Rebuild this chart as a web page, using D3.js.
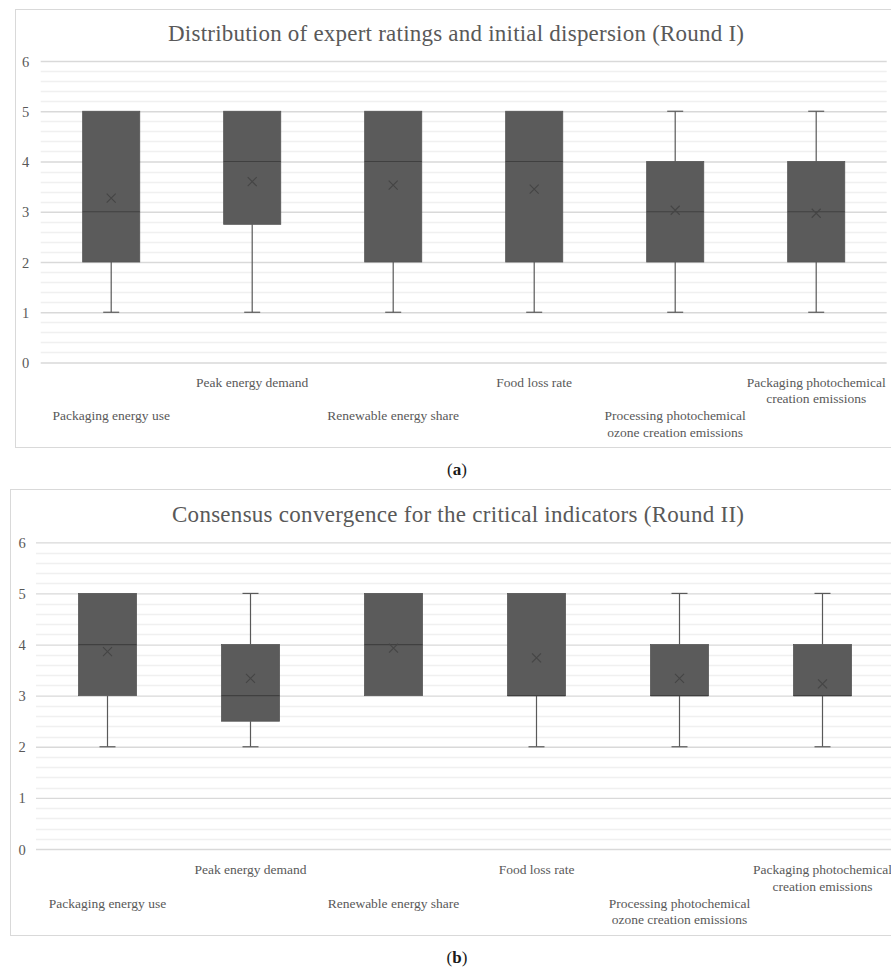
<!DOCTYPE html>
<html>
<head>
<meta charset="utf-8">
<script src="https://cdn.jsdelivr.net/npm/d3@7"></script>
<style>
  html, body { margin: 0; padding: 0; background: #fff; }
  svg { display: block; }
</style>
</head>
<body>
<svg id="chart" width="891" height="972"></svg>
<script>
// ---------------- DATA ----------------
const categories = [
  "Packaging energy use",
  "Peak energy demand",
  "Renewable energy share",
  "Food loss rate",
  "Processing photochemical ozone creation emissions",
  "Packaging photochemical creation emissions"
];
const categoryLabelLines = [
  ["Packaging energy use"],
  ["Peak energy demand"],
  ["Renewable energy share"],
  ["Food loss rate"],
  ["Processing photochemical", "ozone creation emissions"],
  ["Packaging photochemical", "creation emissions"]
];
const yTicks = [0, 1, 2, 3, 4, 5, 6];

const titleRound1 = "Distribution of expert ratings and initial dispersion (Round I)";
const titleRound2 = "Consensus convergence for the critical indicators (Round II)";

// Round I
const r1Min    = [1, 1, 1, 1, 1, 1];
const r1Q1     = [2, 2.75, 2, 2, 2, 2];
const r1Median = [3, 4, 4, 4, 3, 3];
const r1Q3     = [5, 5, 5, 5, 4, 4];
const r1Max    = [5, 5, 5, 5, 5, 5];
const r1Mean   = [3.27, 3.6, 3.53, 3.45, 3.03, 2.97];

// Round II
const r2Min    = [2, 2, 3, 2, 2, 2];
const r2Q1     = [3, 2.5, 3, 3, 3, 3];
const r2Median = [4, 3, 4, 3, 3, 3];
const r2Q3     = [5, 4, 5, 5, 4, 4];
const r2Max    = [5, 5, 5, 5, 5, 5];
const r2Mean   = [3.86, 3.34, 3.93, 3.74, 3.34, 3.23];

// ---------------- DRAW ----------------
const svg = d3.select("#chart");
const FONT = "'Liberation Serif', 'DejaVu Serif', serif";
const TEXT = "#595959";
const BOX = "#5b5b5b";
const DARK = "#404040";

function buildRows(mins, q1s, meds, q3s, maxs, means) {
  return categories.map((c, i) => ({
    cat: c, lines: categoryLabelLines[i],
    min: mins[i], q1: q1s[i], med: meds[i], q3: q3s[i], max: maxs[i], mean: means[i], i
  }));
}

function drawPanel(cfg) {
  const g = svg.append("g");
  // frame
  g.append("rect")
    .attr("x", cfg.frame.x + 0.5).attr("y", cfg.frame.y + 0.5)
    .attr("width", cfg.frame.w).attr("height", cfg.frame.h)
    .attr("fill", "#fff").attr("stroke", "#d9d9d9").attr("stroke-width", 1);

  const x = d3.scaleBand().domain(categories).range([cfg.plot.left, cfg.plot.right]).padding(0);
  const y = d3.scaleLinear().domain([0, 6]).range([cfg.plot.bottom, cfg.plot.top]);

  // minor gridlines
  const minor = d3.range(0, 6.0001, 0.2).filter(v => Math.abs(v - Math.round(v)) > 1e-6);
  g.append("g").selectAll("line").data(minor).join("line")
    .attr("x1", cfg.plot.left).attr("x2", cfg.plot.right)
    .attr("y1", d => Math.round(y(d)) + 0.5).attr("y2", d => Math.round(y(d)) + 0.5)
    .attr("stroke", "#f0f0f0").attr("stroke-width", 1.5);

  // major gridlines via axis
  const axis = d3.axisLeft(y).tickValues(yTicks).tickSize(-(cfg.plot.right - cfg.plot.left)).tickPadding(0).tickFormat(d3.format("d"));
  const ag = g.append("g").attr("transform", `translate(${cfg.plot.left},0)`).call(axis);
  ag.select(".domain").remove();
  ag.selectAll(".tick line").attr("stroke", "#d9d9d9").attr("stroke-width", 1.3);
  ag.selectAll(".tick text")
    .attr("x", cfg.tickLabelX - cfg.plot.left)
    .attr("text-anchor", "middle")
    .attr("dy", "0.35em")
    .attr("fill", TEXT)
    .style("font-family", FONT).style("font-size", "14.5px");

  const bw = x.bandwidth() * 0.405;
  const cx = d => x(d.cat) + x.bandwidth() / 2;

  const rows = cfg.rows;
  const bg = g.append("g");
  // whiskers
  bg.selectAll(".wl").data(rows).join("line")
    .attr("x1", cx).attr("x2", cx)
    .attr("y1", d => y(d.max)).attr("y2", d => y(d.q3))
    .attr("stroke", "#595959").attr("stroke-width", 1.2);
  bg.selectAll(".wl2").data(rows).join("line")
    .attr("x1", cx).attr("x2", cx)
    .attr("y1", d => y(d.q1)).attr("y2", d => y(d.min))
    .attr("stroke", "#595959").attr("stroke-width", 1.2);
  // caps
  bg.selectAll(".capT").data(rows.filter(d => d.max > d.q3)).join("line")
    .attr("x1", d => cx(d) - 8).attr("x2", d => cx(d) + 8)
    .attr("y1", d => y(d.max)).attr("y2", d => y(d.max))
    .attr("stroke", "#595959").attr("stroke-width", 1.2);
  bg.selectAll(".capB").data(rows.filter(d => d.min < d.q1)).join("line")
    .attr("x1", d => cx(d) - 8).attr("x2", d => cx(d) + 8)
    .attr("y1", d => y(d.min)).attr("y2", d => y(d.min))
    .attr("stroke", "#595959").attr("stroke-width", 1.2);
  // boxes
  bg.selectAll(".box").data(rows).join("rect")
    .attr("x", d => cx(d) - bw / 2).attr("width", bw)
    .attr("y", d => y(d.q3)).attr("height", d => y(d.q1) - y(d.q3))
    .attr("fill", BOX).attr("stroke", "#555").attr("stroke-width", 0.8);
  // medians
  bg.selectAll(".med").data(rows).join("line")
    .attr("x1", d => cx(d) - bw / 2).attr("x2", d => cx(d) + bw / 2)
    .attr("y1", d => y(d.med)).attr("y2", d => y(d.med))
    .attr("stroke", DARK).attr("stroke-width", 1.2);
  // mean markers
  const s = 4.5;
  bg.selectAll(".mean").data(rows).join("path")
    .attr("d", d => {
      const X = cx(d), Y = y(d.mean);
      return `M${X - s},${Y - s}L${X + s},${Y + s}M${X - s},${Y + s}L${X + s},${Y - s}`;
    })
    .attr("stroke", "#454545").attr("stroke-width", 1.1).attr("fill", "none");

  // category labels (staggered)
  const lg = g.append("g");
  rows.forEach(d => {
    const base = cfg.plot.bottom + (d.i % 2 === 1 ? cfg.upperOff : cfg.lowerOff);
    const t = lg.append("text")
      .attr("x", cx(d)).attr("y", base)
      .attr("text-anchor", "middle").attr("fill", TEXT)
      .style("font-family", FONT).style("font-size", "13.5px");
    d.lines.forEach((ln, k) => {
      t.append("tspan").attr("x", cx(d)).attr("y", base + k * cfg.lineH).text(ln);
    });
  });

  // title
  const tt = g.append("text")
    .attr("x", cfg.titleX).attr("y", cfg.titleY)
    .attr("text-anchor", "middle").attr("fill", TEXT)
    .style("font-family", FONT).style("font-size", "23px")
    .text(cfg.title);
  tt.attr("textLength", cfg.titleW).attr("lengthAdjust", "spacing");

  // panel letter
  const pl = svg.append("text")
    .attr("x", cfg.letterX).attr("y", cfg.letterY)
    .attr("text-anchor", "middle").attr("fill", "#1a1a1a")
    .style("font-family", FONT).style("font-size", "17px");
  pl.append("tspan").text("(");
  pl.append("tspan").style("font-weight", "bold").text(cfg.letter);
  pl.append("tspan").text(")");
}

drawPanel({
  frame: { x: 15, y: 9, w: 900, h: 438 },
  plot: { left: 40.7, right: 886.7, top: 61, bottom: 362.5 },
  tickLabelX: 25.5,
  rows: buildRows(r1Min, r1Q1, r1Median, r1Q3, r1Max, r1Mean),
  upperOff: 24, lowerOff: 57.5, lineH: 16.7,
  title: titleRound1, titleX: 456, titleY: 41, titleW: 576,
  letter: "a", letterX: 457, letterY: 475
});

drawPanel({
  frame: { x: 10, y: 489, w: 900, h: 446 },
  plot: { left: 36, right: 894, top: 542.3, bottom: 849 },
  tickLabelX: 22,
  rows: buildRows(r2Min, r2Q1, r2Median, r2Q3, r2Max, r2Mean),
  upperOff: 25, lowerOff: 58.5, lineH: 16.7,
  title: titleRound2, titleX: 458, titleY: 522, titleW: 572,
  letter: "b", letterX: 457, letterY: 963
});
</script>
</body>
</html>
